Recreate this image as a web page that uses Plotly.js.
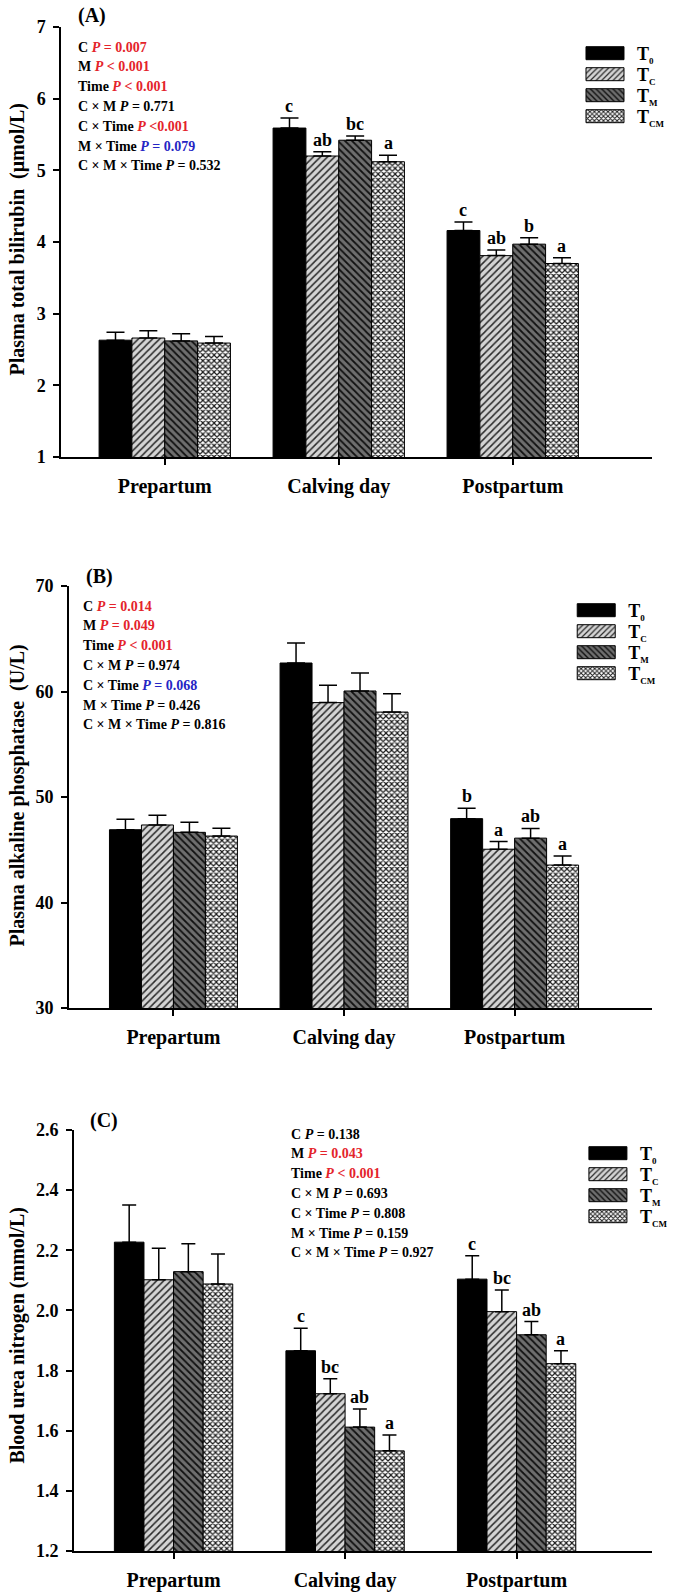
<!DOCTYPE html>
<html><head><meta charset="utf-8">
<script src="https://cdn.plot.ly/plotly-3.0.1.min.js"></script>
<style>html,body{margin:0;padding:0;background:#fff}</style>
</head><body><div id="chart" style="width:673px;height:1595px"></div>
<script>
// ---------- DATA ----------
const categories = ['Prepartum', 'Calving day', 'Postpartum'];
const seriesSubs = ['0', 'C', 'M', 'CM'];

// (A) Plasma total bilirubin (µmol/L)
const bilirubin_T0  = [2.63, 5.59, 4.16];
const bilirubin_TC  = [2.66, 5.20, 3.81];
const bilirubin_TM  = [2.62, 5.42, 3.97];
const bilirubin_TCM = [2.59, 5.12, 3.70];
const bilirubinErr_T0  = [0.11, 0.14, 0.12];
const bilirubinErr_TC  = [0.10, 0.06, 0.08];
const bilirubinErr_TM  = [0.10, 0.06, 0.09];
const bilirubinErr_TCM = [0.09, 0.09, 0.08];
const bilirubinLetters_T0  = ['', 'c', 'c'];
const bilirubinLetters_TC  = ['', 'ab', 'ab'];
const bilirubinLetters_TM  = ['', 'bc', 'b'];
const bilirubinLetters_TCM = ['', 'a', 'a'];

// (B) Plasma alkaline phosphatase (U/L)
const alp_T0  = [46.9, 62.7, 47.95];
const alp_TC  = [47.35, 58.95, 45.05];
const alp_TM  = [46.65, 60.05, 46.1];
const alp_TCM = [46.3, 58.05, 43.55];
const alpErr_T0  = [0.98, 1.9, 0.98];
const alpErr_TC  = [0.92, 1.65, 0.73];
const alpErr_TM  = [0.95, 1.7, 0.92];
const alpErr_TCM = [0.73, 1.74, 0.85];
const alpLetters_T0  = ['', '', 'b'];
const alpLetters_TC  = ['', '', 'a'];
const alpLetters_TM  = ['', '', 'ab'];
const alpLetters_TCM = ['', '', 'a'];

// (C) Blood urea nitrogen (mmol/L)
const bun_T0  = [2.227, 1.866, 2.104];
const bun_TC  = [2.102, 1.723, 1.996];
const bun_TM  = [2.129, 1.612, 1.919];
const bun_TCM = [2.088, 1.533, 1.823];
const bunErr_T0  = [0.124, 0.075, 0.078];
const bunErr_TC  = [0.105, 0.050, 0.072];
const bunErr_TM  = [0.093, 0.060, 0.044];
const bunErr_TCM = [0.100, 0.053, 0.043];
const bunLetters_T0  = ['', 'c', 'c'];
const bunLetters_TC  = ['', 'bc', 'bc'];
const bunLetters_TM  = ['', 'ab', 'ab'];
const bunLetters_TCM = ['', 'a', 'a'];

// Statistics text
const RED = '#e4232b', BLUE = '#2525c4';
const statsA = [
  'C <span style="color:' + RED + '"><i>P</i> = 0.007</span>',
  'M <span style="color:' + RED + '"><i>P</i> &lt; 0.001</span>',
  'Time <span style="color:' + RED + '"><i>P</i> &lt; 0.001</span>',
  'C × M <i>P</i> = 0.771',
  'C × Time <span style="color:' + RED + '"><i>P</i> &lt;0.001</span>',
  'M × Time <span style="color:' + BLUE + '"><i>P</i> = 0.079</span>',
  'C × M × Time <i>P</i> = 0.532'
];
const statsB = [
  'C <span style="color:' + RED + '"><i>P</i> = 0.014</span>',
  'M <span style="color:' + RED + '"><i>P</i> = 0.049</span>',
  'Time <span style="color:' + RED + '"><i>P</i> &lt; 0.001</span>',
  'C × M <i>P</i> = 0.974',
  'C × Time <span style="color:' + BLUE + '"><i>P</i> = 0.068</span>',
  'M × Time <i>P</i> = 0.426',
  'C × M × Time <i>P</i> = 0.816'
];
const statsC = [
  'C <i>P</i> = 0.138',
  'M <span style="color:' + RED + '"><i>P</i> = 0.043</span>',
  'Time <span style="color:' + RED + '"><i>P</i> &lt; 0.001</span>',
  'C × M <i>P</i> = 0.693',
  'C × Time <i>P</i> = 0.808',
  'M × Time <i>P</i> = 0.159',
  'C × M × Time <i>P</i> = 0.927'
];

// ---------- STYLE / LAYOUT ----------
const FONT = '"Liberation Serif", "Times New Roman", serif';
const W = 673, H = 1595;
const fx = px => px / W;
const fy = py => 1 - py / H;
const seriesNames = seriesSubs.map(s => 'T<sub><span style="font-size:9px">' + s + '</span></sub>');

const seriesStyles = [
  {color: '#000000'},
  {color: '#d2d2d2', pattern: {shape: '/', fgcolor: '#2a2a2a', bgcolor: '#d4d4d4', size: 5, solidity: 0.3}},
  {color: '#6e6e6e', pattern: {shape: '\\', fgcolor: '#111111', bgcolor: '#6e6e6e', size: 5, solidity: 0.35}},
  {color: '#ffffff', pattern: {shape: 'x', fgcolor: '#1a1a1a', bgcolor: '#ffffff', size: 4, solidity: 0.5}}
];

const panels = [
  {xa: 'x', ya: 'y', legend: 'legend',
   values: [bilirubin_T0, bilirubin_TC, bilirubin_TM, bilirubin_TCM],
   errs: [bilirubinErr_T0, bilirubinErr_TC, bilirubinErr_TM, bilirubinErr_TCM],
   letters: [bilirubinLetters_T0, bilirubinLetters_TC, bilirubinLetters_TM, bilirubinLetters_TCM],
   stats: statsA, label: '(A)', ytitle: 'Plasma total bilirubin  (μmol/L)',
   left: 63, right: 669, top: 27, bottom: 457, yRange: [1, 7], dtick: 1, tickformat: '',
   xRange: [-0.594, 2.801], groupW: 0.755, cap: 9,
   labelPos: [94, 15], statsPos: [78, 47], ytitlePos: [17, 240], legendPos: [594, 35]},
  {xa: 'x2', ya: 'y2', legend: 'legend2',
   values: [alp_T0, alp_TC, alp_TM, alp_TCM],
   errs: [alpErr_T0, alpErr_TC, alpErr_TM, alpErr_TCM],
   letters: [alpLetters_T0, alpLetters_TC, alpLetters_TM, alpLetters_TCM],
   stats: statsB, label: '(B)', ytitle: 'Plasma alkaline phosphatase  (U/L)',
   left: 71, right: 669, top: 586, bottom: 1008, yRange: [30, 70], dtick: 10, tickformat: '',
   xRange: [-0.611, 2.806], groupW: 0.75, cap: 9,
   labelPos: [102, 577], statsPos: [83, 606], ytitlePos: [17, 796], legendPos: [585, 592]},
  {xa: 'x3', ya: 'y3', legend: 'legend3',
   values: [bun_T0, bun_TC, bun_TM, bun_TCM],
   errs: [bunErr_T0, bunErr_TC, bunErr_TM, bunErr_TCM],
   letters: [bunLetters_T0, bunLetters_TC, bunLetters_TM, bunLetters_TCM],
   stats: statsC, label: '(C)', ytitle: 'Blood urea nitrogen (mmol/L)',
   left: 76, right: 669, top: 1130, bottom: 1551, yRange: [1.2, 2.6], dtick: 0.2, tickformat: '.1f',
   xRange: [-0.58, 2.79], groupW: 0.69, cap: 7,
   labelPos: [107, 1120], statsPos: [297, 1134], ytitlePos: [17, 1336], legendPos: [597, 1135]}
];

const traces = [];
const annotations = [];
const layout = {
  width: W, height: H,
  margin: {l: 0, r: 0, t: 0, b: 0},
  paper_bgcolor: '#ffffff', plot_bgcolor: '#ffffff',
  barmode: 'overlay',
  font: {family: FONT, color: '#000'},
  hovermode: false,
  annotations: annotations
};

panels.forEach((p, k) => {
  const n = p.values.length;
  const bw = p.groupW / n;
  p.values.forEach((vals, i) => {
    const off = -p.groupW / 2 + i * bw;
    const st = seriesStyles[i];
    const marker = {color: st.color, line: {color: '#000', width: 1}};
    if (st.pattern) marker.pattern = Object.assign({fillmode: 'replace'}, st.pattern);
    traces.push({
      type: 'bar', x: categories, y: vals, name: seriesNames[i],
      xaxis: p.xa, yaxis: p.ya, legend: p.legend, showlegend: true,
      width: bw, offset: off, marker: marker,
      error_y: {type: 'data', symmetric: false, array: p.errs[i], arrayminus: vals.map(() => 0),
                color: '#000', thickness: 1.5, width: p.cap}
    });
    // significance letters above the error bars
    p.letters[i].forEach((txt, j) => {
      if (!txt) return;
      annotations.push({
        xref: p.xa, yref: p.ya, x: j + off + bw / 2, y: vals[j] + p.errs[i][j],
        text: '<b>' + txt + '</b>', showarrow: false, xanchor: 'center', yanchor: 'bottom', yshift: 0,
        font: {family: FONT, size: 18, color: '#000'}
      });
    });
  });

  const xKey = 'xaxis' + (k === 0 ? '' : (k + 1));
  const yKey = 'yaxis' + (k === 0 ? '' : (k + 1));
  layout[xKey] = {
    domain: [fx(p.left), fx(p.right)], range: p.xRange, type: 'category', anchor: p.ya,
    showline: true, linecolor: '#000', linewidth: 2, ticks: 'outside', ticklen: 6, tickwidth: 2, tickcolor: '#000',
    showgrid: false, zeroline: false, ticklabelstandoff: 4,
    tickfont: {family: FONT, size: 20, weight: 'bold', color: '#000'}, fixedrange: true
  };
  layout[yKey] = {
    domain: [fy(p.bottom), fy(p.top)], range: p.yRange, anchor: p.xa,
    showline: true, linecolor: '#000', linewidth: 2, ticks: 'outside', ticklen: 6, tickwidth: 2, tickcolor: '#000',
    showgrid: false, zeroline: false, dtick: p.dtick, tick0: p.yRange[0], tickformat: p.tickformat,
    ticklabelstandoff: 4,
    tickfont: {family: FONT, size: 18, weight: 'bold', color: '#000'}, fixedrange: true
  };
  layout[p.legend] = {
    x: fx(p.legendPos[0]), y: fy(p.legendPos[1]), xanchor: 'left', yanchor: 'top',
    xref: 'paper', yref: 'paper',
    bgcolor: 'rgba(0,0,0,0)', borderwidth: 0, itemwidth: 48, traceorder: 'normal',
    font: {family: FONT, size: 18, weight: 'bold', color: '#000'}
  };

  // panel label
  annotations.push({xref: 'paper', yref: 'paper', x: fx(p.labelPos[0]), y: fy(p.labelPos[1]),
    text: '<b>' + p.label + '</b>', showarrow: false, xanchor: 'center', yanchor: 'middle',
    font: {family: FONT, size: 20, color: '#000'}});
  // y-axis title
  annotations.push({xref: 'paper', yref: 'paper', x: fx(p.ytitlePos[0]), y: fy(p.ytitlePos[1]),
    text: '<b>' + p.ytitle + '</b>', showarrow: false, textangle: -90, xanchor: 'center', yanchor: 'middle',
    font: {family: FONT, size: 20, color: '#000'}});
  // statistics block
  p.stats.forEach((s, i) => {
    annotations.push({xref: 'paper', yref: 'paper', x: fx(p.statsPos[0]), y: fy(p.statsPos[1] + i * 19.8),
      text: '<b>' + s + '</b>', showarrow: false, xanchor: 'left', yanchor: 'middle',
      font: {family: FONT, size: 14, color: '#000'}});
  });
});

Plotly.newPlot('chart', traces, layout, {staticPlot: true, displayModeBar: false}).then(() => {
  // wide legend swatches like the original figure
  document.querySelectorAll('g.legendpoints path').forEach(el => {
    const d = el.getAttribute('d');
    if (d && d.replace(/\s/g, '') === 'M6,6H-6V-6H6Z') el.setAttribute('d', 'M16,6.5H-22V-6.5H16Z');
  });
  // tighter legend row spacing (21 px)
  document.querySelectorAll('g.infolayer > g').forEach(root => {
    const items = Array.from(root.querySelectorAll('g.traces'));
    if (items.length < 2) return;
    const ys = items.map(el => {
      const r = el.querySelector('g.legendpoints').getBoundingClientRect();
      return r.top + r.height / 2;
    });
    items.forEach((el, i) => {
      const delta = ys[0] + i * 21 - ys[i];
      el.setAttribute('transform', (el.getAttribute('transform') || '') + ' translate(0,' + delta + ')');
    });
  });
});
</script>
</body></html>
